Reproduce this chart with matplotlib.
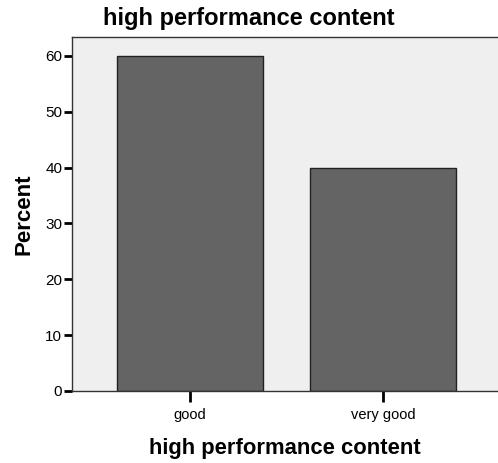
import matplotlib
matplotlib.use("Agg")
from matplotlib import pyplot as plt

categories = ["good", "very good"]
percents = [60, 40]
yticks = [0, 10, 20, 30, 40, 50, 60]

plt.rcParams["font.family"] = ["Liberation Sans", "DejaVu Sans"]

fig = plt.figure(figsize=(4.98, 4.63), dpi=100)
ax = fig.add_axes([72 / 498, 72 / 463, 426 / 498, 354 / 463])
ax.set_facecolor("#efefef")

pos = list(range(len(categories)))
ax.bar(pos, percents, width=0.754, color="#646464", edgecolor="#222222", linewidth=1)

ax.set_xlim(-0.61, 1.595)
ax.set_ylim(0, 63.4)
ax.set_xticks(pos)
ax.set_xticklabels(categories, fontsize=10.5)
ax.set_yticks(yticks)
ax.tick_params(axis="y", labelsize=11, length=6, width=2, pad=1, colors="black")
ax.tick_params(axis="x", length=8, width=2, pad=4)

for s in ["left", "bottom", "top"]:
    ax.spines[s].set_color("#333333")
    ax.spines[s].set_linewidth(1)
ax.spines["right"].set_visible(False)

ax.set_xlabel("high performance content", fontsize=15.8, fontweight="bold", labelpad=12)
ax.set_ylabel("Percent", fontsize=16, fontweight="bold", labelpad=8)
fig.text(249 / 498, 1 - 18 / 463, "high performance content", fontsize=17,
         fontweight="bold", ha="center", va="center")

fig.savefig("out.png", dpi=100)
